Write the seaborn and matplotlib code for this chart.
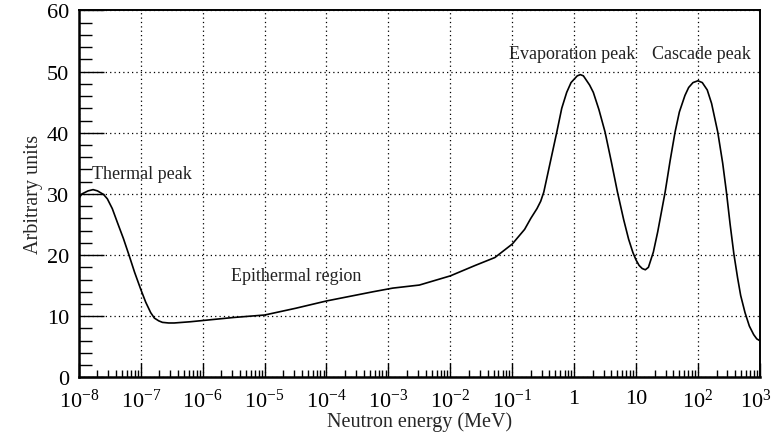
import numpy as np
import pandas as pd
import matplotlib
matplotlib.use("Agg")
import matplotlib.pyplot as plt
import matplotlib.transforms as mtransforms
import seaborn as sns

# log10 of neutron energy (MeV) and spectrum value (arbitrary units)
log_energy = [-8.0, -7.95, -7.85, -7.77, -7.7, -7.6, -7.54, -7.46, -7.38, -7.28, -7.19, -7.1,
              -7.0, -6.92, -6.84, -6.78, -6.71, -6.65, -6.55, -6.46, -6.2, -6.0, -5.5,
              -5.0, -4.5, -4.0, -3.5, -3.25, -2.93, -2.5, -2.0, -1.6, -1.28, -1.0, -0.8,
              -0.7, -0.6, -0.54, -0.49, -0.4, -0.28, -0.2, -0.12, -0.05, 0.05, 0.1, 0.15,
              0.25, 0.31, 0.4, 0.5, 0.6, 0.7, 0.8, 0.88, 0.95, 1.0, 1.05, 1.1, 1.15, 1.2,
              1.28, 1.35, 1.47, 1.55, 1.63, 1.7, 1.79, 1.85, 1.92, 2.0, 2.07, 2.15, 2.22,
              2.32, 2.4, 2.46, 2.52, 2.58, 2.64, 2.69, 2.76, 2.83, 2.9, 2.95, 3.0]
flux = [29.3, 30.0, 30.5, 30.7, 30.5, 29.9, 29.2, 27.6, 25.4, 22.7, 20.0, 17.2,
        14.4, 12.3, 10.6, 9.7, 9.25, 9.0, 8.9, 8.9, 9.1, 9.3, 9.8,
        10.2, 11.3, 12.5, 13.5, 14.0, 14.6, 15.1, 16.6, 18.3, 19.6, 21.8, 24.2,
        26.0, 27.6, 28.8, 30.3, 34.5, 40.1, 44.0, 46.6, 48.2, 49.3, 49.5, 49.3,
        47.8, 46.6, 43.8, 40.1, 35.3, 30.3, 25.8, 22.6, 20.4, 19.2, 18.3, 17.8, 17.6, 18.0,
        20.5, 23.8, 30.3, 35.4, 40.1, 43.4, 46.1, 47.4, 48.2, 48.5, 48.2, 47.0, 44.8,
        40.1, 35.0, 30.3, 25.0, 20.2, 16.3, 13.4, 10.6, 8.4, 7.0, 6.3, 6.0]

x_ticks = [1e-8, 1e-7, 1e-6, 1e-5, 1e-4, 1e-3, 1e-2, 1e-1, 1, 10, 1e2, 1e3]
x_tick_labels = [r"$10^{-8}$", r"$10^{-7}$", r"$10^{-6}$", r"$10^{-5}$", r"$10^{-4}$",
                 r"$10^{-3}$", r"$10^{-2}$", r"$10^{-1}$", "1", "10",
                 r"$10^{2}$", r"$10^{3}$"]
y_ticks = [0, 10, 20, 30, 40, 50, 60]

annot_text = ["Thermal peak", "Epithermal region", "Evaporation peak", "Cascade peak"]
annot_logx = [-7.79, -5.54, -1.06, 1.26]
annot_y = [33.3, 16.6, 52.9, 52.9]

sns.set_style("ticks")
plt.rcParams["font.family"] = ["Liberation Serif", "DejaVu Serif"]
plt.rcParams["mathtext.fontset"] = "custom"
plt.rcParams["mathtext.rm"] = "Liberation Serif"
plt.rcParams["mathtext.it"] = "Liberation Serif:italic"
plt.rcParams["mathtext.bf"] = "Liberation Serif:bold"

df = pd.DataFrame({"energy": 10.0 ** np.array(log_energy), "flux": flux})

fig = plt.figure(figsize=(7.73, 4.39), dpi=100)
ax = fig.add_axes([0.102, 0.138, 0.881, 0.836])

sns.lineplot(data=df, x="energy", y="flux", ax=ax, color="black", linewidth=1.2,
             sort=False, estimator=None)

ax.set_xscale("log")
ax.set_xlim(1e-8, 1e3)
ax.set_ylim(0, 60)
ax.set_xticks(x_ticks)
ax.set_xticklabels(x_tick_labels)
ax.set_yticks(y_ticks)
ax.yaxis.set_minor_locator(matplotlib.ticker.MultipleLocator(2))
ax.xaxis.set_minor_locator(matplotlib.ticker.LogLocator(base=10, subs=np.arange(2, 10), numticks=100))
ax.xaxis.set_minor_formatter(matplotlib.ticker.NullFormatter())

ax.tick_params(axis="both", which="both", direction="in", top=False, right=False,
               labelsize=16, colors="black", width=1.0)
ax.tick_params(axis="y", which="major", length=18, pad=7)
ax.tick_params(axis="y", which="minor", length=9)
ax.tick_params(axis="x", which="major", length=10, pad=8)
ax.tick_params(axis="x", which="minor", length=5)

# nudge the last x tick label left so it stays inside the figure
last_lbl = ax.get_xticklabels()[-1]
last_lbl.set_transform(last_lbl.get_transform() +
                       mtransforms.ScaledTranslation(-4 / 100, 0, fig.dpi_scale_trans))

ax.grid(True, which="major", linestyle=(0, (1, 2.5)), color="black", linewidth=0.9)

for s in ax.spines.values():
    s.set_visible(True)
    s.set_color("black")
    s.set_linewidth(1.4)
ax.spines["left"].set_linewidth(1.8)
ax.spines["bottom"].set_linewidth(1.8)

ax.set_xlabel("Neutron energy (MeV)", fontsize=14.5, labelpad=0)
ax.set_ylabel("Arbitrary units", fontsize=14.5, labelpad=3)

for t, lx, yy in zip(annot_text, annot_logx, annot_y):
    ax.text(10.0 ** lx, yy, t, fontsize=13, ha="left", va="center", color="#222222")

fig.savefig("out.png", dpi=100, facecolor="white")
